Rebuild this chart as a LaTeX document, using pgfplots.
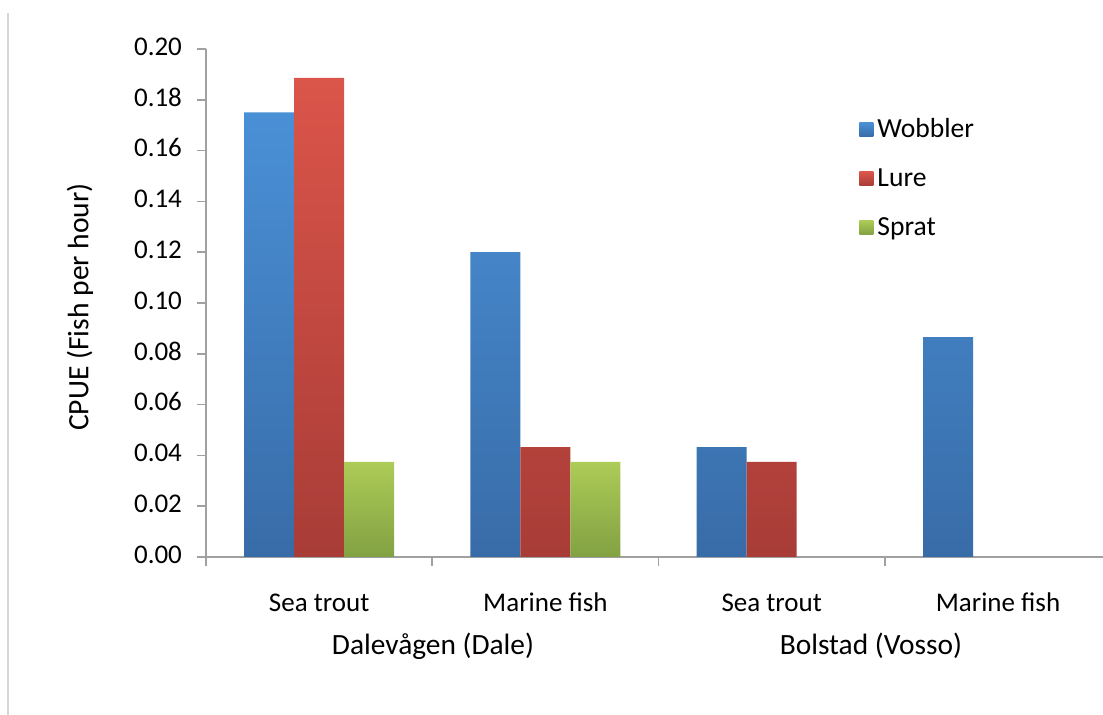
\documentclass[border=0pt]{standalone}
\usepackage{fontspec}
\setmainfont{Carlito}
\usepackage{pgfplots}
\pgfplotsset{compat=1.18}
\definecolor{axgray}{RGB}{160,160,160}
\definecolor{frameg}{RGB}{215,215,215}
\definecolor{bluetop}{RGB}{74,144,214}
\definecolor{bluebot}{RGB}{56,108,168}
\definecolor{redtop}{RGB}{219,85,74}
\definecolor{redbot}{RGB}{168,60,55}
\definecolor{greentop}{RGB}{172,203,87}
\definecolor{greenbot}{RGB}{130,161,66}
\begin{document}
\begin{tikzpicture}
\useasboundingbox (0,0) rectangle (551.5pt,357.5pt);
\draw[line width=0.6pt, frameg] (4pt,0) -- (4pt,351pt);
\begin{axis}[
  at={(103pt,79pt)}, anchor=south west,
  scale only axis, width=448.5pt, height=254pt,
  ybar=0pt, bar width=25pt,
  xmin=-0.5, xmax=3.464, ymin=0, ymax=0.2,
  axis x line*=bottom, axis y line*=left,
  axis line style={axgray, line width=0.8pt},
  xtick={0,1,2,3},
  xticklabels={Sea trout, Marine fish, Sea trout, Marine fish},
  typeset ticklabels with strut,
  major x tick style={draw=none},
  minor xtick={-0.5,0.5,1.5,2.5},
  minor x tick style={axgray, line width=0.8pt},
  minor tick length=4.5pt,
  ytick={0,0.02,0.04,0.06,0.08,0.10,0.12,0.14,0.16,0.18,0.20},
  major y tick style={axgray, line width=0.8pt},
  major tick length=4.5pt,
  tick align=outside,
  yticklabel style={/pgf/number format/fixed, /pgf/number format/fixed zerofill, /pgf/number format/precision=2, xshift=-4pt},
  /pgf/number format/assume math mode=true,
  tick label style={font=\fontsize{13.5}{16}\selectfont, black},
  xticklabel style={yshift=-8pt},
  legend style={at={(axis description cs:0.728,0.872)}, anchor=north west, draw=none, fill=none, inner sep=0pt,
    font=\fontsize{13.8}{16}\selectfont, row sep=10pt,
    nodes={inner sep=2pt, anchor=west}},
  legend cell align=left,
  legend image code/.code={\path[#1] (0pt,-3.5pt) rectangle (7pt,3.5pt);},
  every axis plot/.append style={draw=none},
]
\addplot[top color=bluetop, bottom color=bluebot, draw=none] coordinates {(0,0.175) (1,0.120) (2,0.0433) (3,0.0866)};
\addplot[top color=redtop, bottom color=redbot, draw=none] coordinates {(0,0.1886) (1,0.0433) (2,0.0374)};
\addplot[top color=greentop, bottom color=greenbot, draw=none] coordinates {(0,0.0374) (1,0.0374)};
\legend{Wobbler, Lure, Sprat}
\end{axis}
\node[rotate=90, font=\fontsize{14.8}{17}\selectfont] at (40pt,204pt) {CPUE (Fish per hour)};
\node[font=\fontsize{14.7}{17}\selectfont] at (216.5pt,34.5pt) {Dalevågen (Dale)};
\node[font=\fontsize{14.7}{17}\selectfont] at (435.5pt,34.5pt) {Bolstad (Vosso)};
\end{tikzpicture}
\end{document}
